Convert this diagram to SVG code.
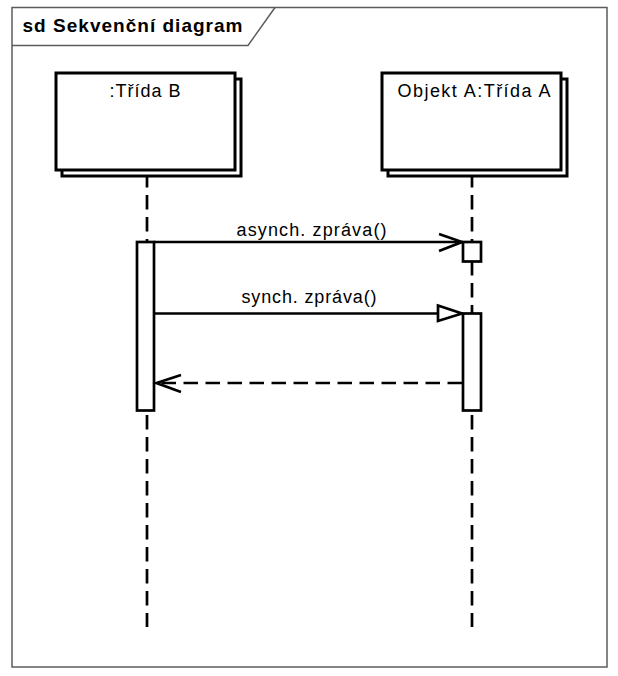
<svg xmlns="http://www.w3.org/2000/svg" width="618" height="676" viewBox="0 0 618 676">
<style>
.frame{fill:none;stroke:#5c5c5c;stroke-width:1.5}
.box{fill:#fff;stroke:#000;stroke-width:3}
.life{stroke:#000;stroke-width:2.7;stroke-dasharray:14.5 7.5;fill:none}
.act{fill:#fff;stroke:#000;stroke-width:2.7}
.msg{stroke:#000;stroke-width:2.7;fill:none}
.ret{stroke:#000;stroke-width:2.7;fill:none;stroke-dasharray:14.5 7.5}
.head{stroke:#000;stroke-width:2.7;fill:none;stroke-linejoin:miter}
.tri{stroke:#000;stroke-width:2.7;fill:#fff;stroke-linejoin:miter}
.lbl{font-family:"Liberation Sans",Arial,sans-serif;font-size:18px;fill:#000}
.title{font-family:"Liberation Sans",Arial,sans-serif;font-size:19px;font-weight:bold;fill:#000}
</style>
<rect width="618" height="676" fill="#fff"/>
<g id="frame">
<rect class="frame" x="12" y="7.5" width="595" height="659.5"/>
<polyline class="frame" points="12,45.5 248,45.5 275,7.5"/>
<text class="title" x="22.5" y="32" textLength="220" lengthAdjust="spacing">sd Sekvenční diagram</text>
</g>
<g id="connectors">
<line class="life" x1="147" y1="173" x2="147" y2="627"/>
<line class="life" x1="472" y1="173" x2="472" y2="627"/>
</g>
<g id="node-trida-b">
<rect class="box" x="62" y="79" width="179" height="97"/>
<rect class="box" x="56" y="73" width="179" height="97"/>
<text class="lbl" x="145" y="97" text-anchor="middle" textLength="71" lengthAdjust="spacing">:Třída B</text>
</g>
<g id="node-objekt-a">
<rect class="box" x="388" y="79" width="179" height="97"/>
<rect class="box" x="382" y="73" width="179" height="97"/>
<text class="lbl" x="474" y="97" text-anchor="middle" textLength="153" lengthAdjust="spacing">Objekt A:Třída A</text>
</g>
<g id="activation-b">
<rect class="act" x="137" y="242" width="17" height="168.5"/>
</g>
<g id="activation-a-async">
<rect class="act" x="463" y="242" width="18" height="19.5"/>
</g>
<g id="activation-a-sync">
<rect class="act" x="463" y="313.5" width="18" height="97"/>
</g>
<g id="messages">
<line class="msg" x1="154" y1="242" x2="462" y2="242"/>
<polyline class="head" points="439,234 462,242 439,251"/>
<text class="lbl" x="311.5" y="236" text-anchor="middle" textLength="150" lengthAdjust="spacing">asynch. zpráva()</text>
<line class="msg" x1="154" y1="313.5" x2="438" y2="313.5"/>
<polygon class="tri" points="438,305.5 462,313.5 438,321"/>
<text class="lbl" x="309" y="303" text-anchor="middle" textLength="135" lengthAdjust="spacing">synch. zpráva()</text>
<line class="ret" x1="462" y1="383" x2="158" y2="383"/>
<polyline class="head" points="181,375 156.5,383 181,392"/>
</g>
</svg>
